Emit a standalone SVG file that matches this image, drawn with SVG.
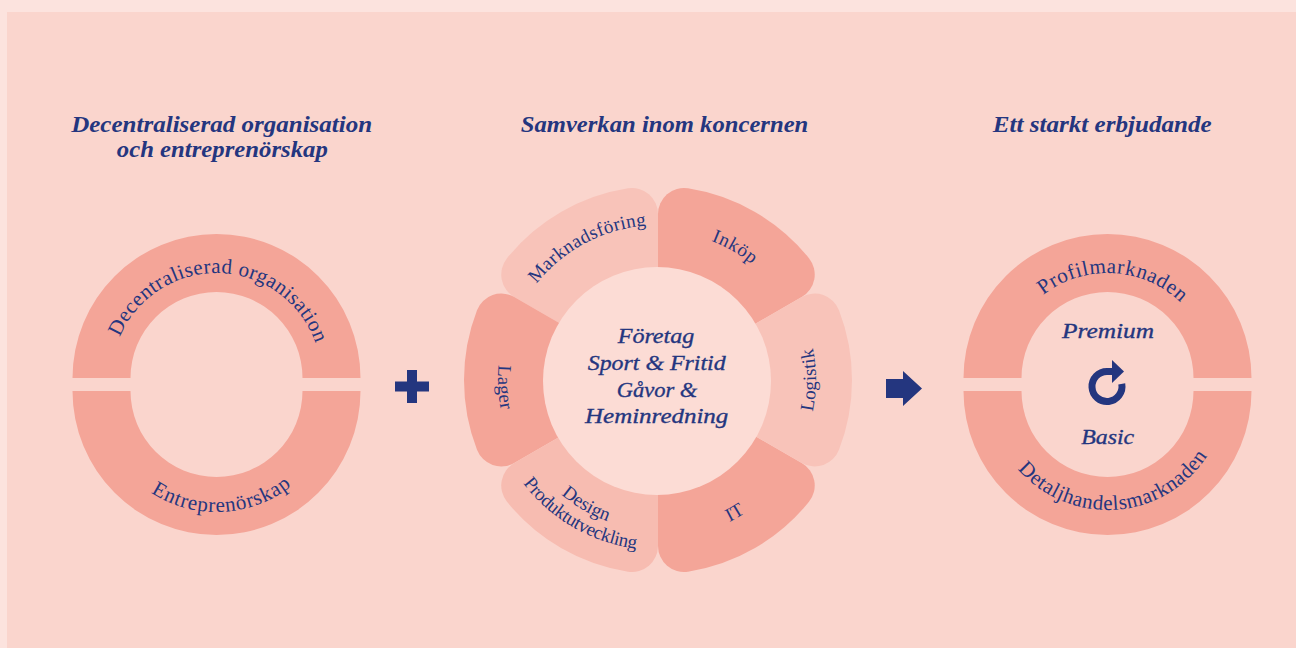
<svg xmlns="http://www.w3.org/2000/svg" xmlns:xlink="http://www.w3.org/1999/xlink" width="1296" height="648" viewBox="0 0 1296 648">
<style>
.t{fill:#24367F;font-family:"Liberation Serif","Times New Roman",serif;}
.title{font-weight:bold;font-style:italic;font-size:23px;}
.lbl{font-size:21px;}
.pl{font-size:19px;}
.it{font-style:italic;font-size:22px;stroke:#24367F;stroke-width:0.35px;}
.ring{fill:#F4A598;}
.dark{fill:#F4A598;}
.light{fill:#F8C3B9;}
.mid{fill:#F7BCB1;}
.ink{fill:#24367F;}
</style>
<defs>
<path id="pLTop" d="M 111.5 378 A 105 105 0 0 1 321.5 378"/>
<path id="pLBot" d="M 95.5 391 A 121 121 0 0 0 337.5 391"/>
<path id="pRTop" d="M 1002.5 378 A 105 105 0 0 1 1212.5 378"/>
<path id="pRBot" d="M 988.5 391 A 119 119 0 0 0 1226.5 391"/>
<path id="pMark" d="M 509.8 334.7 A 155 155 0 0 1 703.3 231.8"/>
<path id="pInk" d="M 619.43 236.08 A 149 149 0 0 1 801.92 341.43"/>
<path id="pLog" d="M 769.72 491.72 A 158 158 0 0 0 769.72 268.28"/>
<path id="pIT" d="M 616.85 533.58 A 159 159 0 0 0 811.58 421.15"/>
<path id="pLag" d="M 544.86 266.86 A 160 160 0 0 0 544.86 493.14"/>
<path id="pDes" d="M 513.11 418.82 A 150 150 0 0 0 696.82 524.89"/>
<path id="pProd" d="M 493.79 424 A 170 170 0 0 0 702 544.21"/>
</defs>

<rect x="0" y="0" width="1296" height="648" fill="#FCE3DE"/>
<rect x="7" y="12" width="1289" height="636" fill="#FAD5CD"/>

<g id="titles">
<text class="t title" x="221.7" y="132.3" text-anchor="middle" textLength="301" lengthAdjust="spacingAndGlyphs">Decentraliserad organisation</text>
<text class="t title" x="222.3" y="157.3" text-anchor="middle" textLength="211" lengthAdjust="spacingAndGlyphs">och entreprenörskap</text>
<text class="t title" x="664.5" y="132.3" text-anchor="middle" textLength="287.6" lengthAdjust="spacingAndGlyphs">Samverkan inom koncernen</text>
<text class="t title" x="1102.2" y="131.7" text-anchor="middle" textLength="219" lengthAdjust="spacingAndGlyphs">Ett starkt erbjudande</text>
</g>

<g id="ring-left">
<path class="ring" d="M 72.5 378 A 144 144 0 0 1 360.5 378 L 302.5 378 A 86 86 0 0 0 130.5 378 Z"/>
<path class="ring" d="M 72.5 391 A 144 144 0 0 0 360.5 391 L 302.5 391 A 86 86 0 0 1 130.5 391 Z"/>
<text class="t lbl"><textPath xlink:href="#pLTop" href="#pLTop" startOffset="51%" text-anchor="middle" textLength="252">Decentraliserad organisation</textPath></text>
<text class="t lbl"><textPath xlink:href="#pLBot" href="#pLBot" startOffset="51.5%" text-anchor="middle" textLength="150">Entreprenörskap</textPath></text>
</g>

<g id="connectors">
<rect class="ink" x="407" y="370" width="10" height="33"/>
<rect class="ink" x="395" y="381.5" width="34" height="10"/>
<polygon class="ink" points="886,379 903,379 903,371 922,388.5 903,406 903,398 886,398"/>
</g>

<g id="flower">
<g id="petal-inkop">
<path class="dark" d="M 658 380 L 801.74 297.01 A 26 26 0 0 0 808.98 258.18 A 194 194 0 0 0 688.01 188.34 A 26 26 0 0 0 658 214.02 Z"/>
</g>
<g id="petal-marknadsforing">
<path class="light" d="M 658 380 L 658 214.02 A 26 26 0 0 0 627.99 188.34 A 194 194 0 0 0 507.02 258.18 A 26 26 0 0 0 514.26 297.01 Z"/>
</g>
<g id="petal-lager">
<path class="dark" d="M 658 380 L 514.26 297.01 A 26 26 0 0 0 477 310.17 A 194 194 0 0 0 477 449.83 A 26 26 0 0 0 514.26 462.99 Z"/>
</g>
<g id="petal-design">
<path class="mid" d="M 658 380 L 514.26 462.99 A 26 26 0 0 0 507.02 501.82 A 194 194 0 0 0 627.99 571.66 A 26 26 0 0 0 658 545.98 Z"/>
</g>
<g id="petal-it">
<path class="dark" d="M 658 380 L 658 545.98 A 26 26 0 0 0 688.01 571.66 A 194 194 0 0 0 808.98 501.82 A 26 26 0 0 0 801.74 462.99 Z"/>
</g>
<g id="petal-logistik">
<path class="light" d="M 658 380 L 801.74 462.99 A 26 26 0 0 0 839 449.83 A 194 194 0 0 0 839 310.17 A 26 26 0 0 0 801.74 297.01 Z"/>
</g>
<g id="center">
<circle cx="657" cy="381" r="114" fill="#FCDCD5"/>
<text class="t it" x="656" y="343.3" text-anchor="middle" textLength="76.6" lengthAdjust="spacingAndGlyphs">Företag</text>
<text class="t it" x="656.7" y="370" text-anchor="middle" textLength="138" lengthAdjust="spacingAndGlyphs">Sport &amp; Fritid</text>
<text class="t it" x="657" y="396.7" text-anchor="middle" textLength="80.6" lengthAdjust="spacingAndGlyphs">Gåvor &amp;</text>
<text class="t it" x="656.7" y="423.3" text-anchor="middle" textLength="143.3" lengthAdjust="spacingAndGlyphs">Heminredning</text>
</g>
<g id="petal-labels">
<text class="t pl"><textPath xlink:href="#pMark" href="#pMark" startOffset="50%" text-anchor="middle" textLength="128">Marknadsföring</textPath></text>
<text class="t pl"><textPath xlink:href="#pInk" href="#pInk" startOffset="50%" text-anchor="middle" textLength="47">Inköp</textPath></text>
<text class="t pl"><textPath xlink:href="#pLog" href="#pLog" startOffset="50%" text-anchor="middle" textLength="64">Logistik</textPath></text>
<text class="t pl"><textPath xlink:href="#pIT" href="#pIT" startOffset="50%" text-anchor="middle">IT</textPath></text>
<text class="t pl"><textPath xlink:href="#pLag" href="#pLag" startOffset="53%" text-anchor="middle" textLength="45">Lager</textPath></text>
<text class="t pl"><textPath xlink:href="#pDes" href="#pDes" startOffset="50%" text-anchor="middle">Design</textPath></text>
<text class="t pl"><textPath xlink:href="#pProd" href="#pProd" startOffset="50%" text-anchor="middle" textLength="134">Produktutveckling</textPath></text>
</g>
</g>

<g id="ring-right">
<path class="ring" d="M 963.5 378 A 144 144 0 0 1 1251.5 378 L 1193.5 378 A 86 86 0 0 0 1021.5 378 Z"/>
<path class="ring" d="M 963.5 391 A 144 144 0 0 0 1251.5 391 L 1193.5 391 A 86 86 0 0 1 1021.5 391 Z"/>
<text class="t lbl"><textPath xlink:href="#pRTop" href="#pRTop" startOffset="51.7%" text-anchor="middle" textLength="150">Profilmarknaden</textPath></text>
<text class="t lbl"><textPath xlink:href="#pRBot" href="#pRBot" startOffset="52.2%" text-anchor="middle" textLength="220">Detaljhandelsmarknaden</textPath></text>
<text class="t it" x="1108" y="337.7" text-anchor="middle" textLength="92" lengthAdjust="spacingAndGlyphs">Premium</text>
<text class="t it" x="1107.7" y="444" text-anchor="middle" textLength="53" lengthAdjust="spacingAndGlyphs">Basic</text>
<g id="cycle-icon">
<path d="M 1121.77 383.9 A 15 15 0 1 1 1107 371.5 L 1113 371.5" fill="none" stroke="#24367F" stroke-width="7"/>
<polygon class="ink" points="1112,360 1124,371.5 1112,383"/>
</g>
</g>
</svg>
